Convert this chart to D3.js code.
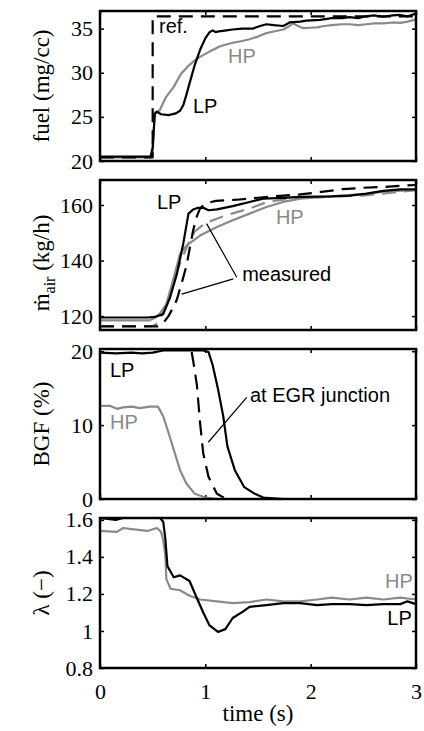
<!DOCTYPE html>
<html>
<head>
<meta charset="utf-8">
<script src="https://cdn.jsdelivr.net/npm/d3@7"></script>
<style>
  body { margin: 0; background: #fff; }
  .serif { font-family: "Liberation Serif", "DejaVu Serif", serif; }
  .sans { font-family: "Liberation Sans", Arial, sans-serif; }
</style>
</head>
<body>
<div class="chart"></div>
<script>
// Data: [time (s), value]
var timeTicks = [0, 1, 2, 3];

var fuelTicks = [20, 25, 30, 35];
var fuelRef = [[0, 20.4], [0.5, 20.4], [0.5, 36.4], [3, 36.4]];
var fuelLP = [[0, 20.5], [0.3, 20.5], [0.48, 20.5], [0.5, 21.5], [0.52, 25.3], [0.54, 25.6], [0.58, 25.3], [0.65, 25.2],
  [0.72, 25.4], [0.76, 25.7], [0.79, 26.3], [0.82, 27.5], [0.85, 28.8], [0.9, 30.9], [0.95, 32.6], [1.0, 33.9],
  [1.04, 34.6], [1.07, 34.8], [1.1, 34.6], [1.13, 34.7], [1.2, 34.8], [1.26, 34.9], [1.35, 35.0], [1.45, 35.0],
  [1.52, 35.3], [1.58, 35.5], [1.65, 35.4], [1.74, 35.3], [1.8, 35.7], [1.9, 35.8], [1.96, 35.9], [2.09, 36.0],
  [2.2, 36.2], [2.3, 36.2], [2.37, 36.3], [2.45, 36.2], [2.53, 36.4], [2.6, 36.5], [2.69, 36.35], [2.78, 36.5],
  [2.85, 36.55], [2.92, 36.4], [3.0, 36.7]];
var fuelHP = [[0, 20.4], [0.48, 20.4], [0.5, 21.0], [0.52, 25.5], [0.55, 25.6], [0.57, 25.8], [0.6, 26.6], [0.63, 27.3],
  [0.7, 28.4], [0.77, 29.9], [0.85, 30.9], [0.9, 31.4], [0.95, 31.8], [1.04, 32.4], [1.14, 33.0], [1.26, 33.4],
  [1.35, 33.6], [1.42, 33.8], [1.5, 34.1], [1.58, 34.5], [1.66, 34.7], [1.74, 34.9], [1.8, 35.3], [1.83, 35.6],
  [1.88, 35.3], [1.93, 35.05], [2.0, 35.1], [2.06, 35.15], [2.13, 35.3], [2.2, 35.4], [2.3, 35.5], [2.37, 35.5],
  [2.45, 35.4], [2.53, 35.5], [2.6, 35.6], [2.69, 35.6], [2.78, 35.7], [2.85, 35.65], [2.92, 35.8], [3.0, 36.05]];

var airTicks = [120, 140, 160];
var airLP = [[0, 119.5], [0.45, 119.5], [0.52, 119.7], [0.6, 120.7], [0.665, 126.7], [0.73, 135.2], [0.79, 146],
  [0.84, 156.9], [0.886, 158.4], [0.93, 159], [0.98, 159], [1.03, 158.1], [1.11, 158.4], [1.26, 159.6], [1.42, 161.1],
  [1.55, 162.3], [1.74, 162.6], [1.9, 162.9], [2.2, 163.1], [2.37, 163.4], [2.53, 164.1], [2.69, 165.1], [2.85, 165.6],
  [3.0, 165.6]];
var airLPmeas = [[0, 116.3], [0.55, 116.3], [0.6, 117.5], [0.65, 120], [0.7, 123.5], [0.73, 126], [0.78, 132.5],
  [0.82, 138], [0.86, 146], [0.885, 151], [0.92, 156], [0.95, 158.8], [1.0, 160.5], [1.1, 161.5], [1.3, 161.9],
  [1.5, 162.6], [1.74, 163.4], [1.9, 163.8], [2.1, 164.7], [2.3, 165.7], [2.5, 166.2], [2.7, 166.5], [2.9, 167.0],
  [3.0, 167.2]];
var airHP = [[0, 118.5], [0.47, 118.5], [0.52, 119.3], [0.57, 121], [0.63, 124.3], [0.7, 133.9], [0.76, 142.4],
  [0.82, 145.4], [0.95, 149], [1.11, 152.1], [1.26, 154.5], [1.42, 156.9], [1.58, 159.3], [1.74, 161.1], [1.9, 162.3],
  [2.2, 163.1], [2.53, 164], [2.69, 164.8], [3.0, 165.4]];
var airHPmeas = [[0, 116.4], [0.5, 116.4], [0.55, 117.5], [0.6, 121.5], [0.66, 127], [0.72, 135], [0.78, 141],
  [0.85, 147], [0.9, 150.5], [1.0, 153.5], [1.14, 155.5], [1.26, 157], [1.42, 158.7], [1.58, 161], [1.8, 162.3],
  [2.2, 163], [2.53, 163.5], [2.85, 164.8], [3.0, 165.3]];

var bgfTicks = [0, 10, 20];
var bgfLP = [[0, 19.8], [0.15, 19.7], [0.3, 19.8], [0.4, 19.7], [0.5, 19.8], [0.6, 20.1], [0.8, 20.1], [0.98, 20.1],
  [1.03, 19.9], [1.07, 18.1], [1.12, 14.9], [1.17, 11.2], [1.21, 7.1], [1.28, 3.9], [1.37, 1.6], [1.47, 0.7],
  [1.55, 0.2], [1.74, 0], [3, 0]];
var bgfLPjunc = [[0.87, 19.9], [0.886, 18.6], [0.92, 15.4], [0.95, 10.3], [0.98, 6.2], [1.03, 3.0], [1.11, 0.7],
  [1.2, 0], [3, 0]];
var bgfHP = [[0, 12.6], [0.1, 12.6], [0.16, 12.2], [0.22, 12.4], [0.3, 12.5], [0.38, 12.3], [0.47, 12.5], [0.55, 12.5],
  [0.6, 11.2], [0.65, 9.0], [0.71, 6.2], [0.76, 3.9], [0.82, 2.1], [0.9, 0.7], [1.0, 0.2], [1.1, 0], [3, 0]];

var lamTicks = [0.8, 1, 1.2, 1.4, 1.6];
var lamLP = [[0, 1.61], [0.15, 1.6], [0.22, 1.61], [0.57, 1.61], [0.6, 1.59], [0.62, 1.5], [0.64, 1.35], [0.7, 1.29],
  [0.76, 1.30], [0.85, 1.27], [0.91, 1.19], [0.98, 1.10], [1.04, 1.03], [1.12, 0.995], [1.19, 1.01], [1.26, 1.07],
  [1.36, 1.106], [1.42, 1.13], [1.58, 1.14], [1.74, 1.15], [1.9, 1.15], [2.06, 1.14], [2.2, 1.145], [2.37, 1.145],
  [2.53, 1.14], [2.69, 1.145], [2.85, 1.145], [2.92, 1.16], [3.0, 1.145]];
var lamHP = [[0, 1.54], [0.16, 1.535], [0.22, 1.556], [0.3, 1.55], [0.45, 1.54], [0.54, 1.556], [0.58, 1.535],
  [0.6, 1.49], [0.62, 1.41], [0.63, 1.28], [0.67, 1.228], [0.76, 1.22], [0.85, 1.19], [0.95, 1.17], [1.11, 1.16],
  [1.26, 1.15], [1.42, 1.156], [1.58, 1.17], [1.74, 1.16], [1.9, 1.16], [2.06, 1.17], [2.2, 1.18], [2.37, 1.17],
  [2.53, 1.18], [2.69, 1.17], [2.85, 1.18], [3.0, 1.17]];

var black = "#000", gray = "#8a8a8a";

// layout
var svgWidth = 424, svgHeight = 731;
var left = 100, width = 316, panelH = 150;
var panelTops = [11, 180, 349, 518];

var svg = d3.select(".chart").append("svg")
  .attr("width", svgWidth)
  .attr("height", svgHeight);

var x = d3.scaleLinear().domain([0, 3]).range([0, width]);

var panels = [
  { domain: [20, 37], ticks: fuelTicks,
    series: [
      { data: fuelHP, color: gray },
      { data: fuelLP, color: black },
      { data: fuelRef, color: black, dash: "14,8" }
    ],
    labels: [
      { t: 0.56, v: 34.5, text: "ref.", color: black },
      { t: 1.215, v: 31.1, text: "HP", color: gray },
      { t: 0.883, v: 25.44, text: "LP", color: black }
    ],
    leaders: [] },
  { domain: [115, 169], ticks: airTicks,
    series: [
      { data: airHPmeas, color: gray, dash: "14,8" },
      { data: airHP, color: gray },
      { data: airLPmeas, color: black, dash: "14,8" },
      { data: airLP, color: black }
    ],
    labels: [
      { t: 0.54, v: 158.7, text: "LP", color: black },
      { t: 1.67, v: 153.3, text: "HP", color: gray },
      { t: 1.35, v: 132.8, text: "measured", color: black }
    ],
    leaders: [[[1.298, 134.0], [1.012, 153.3]], [[1.266, 133.4], [0.775, 127.9]]] },
  { domain: [0, 20.3], ticks: bgfTicks,
    series: [
      { data: bgfHP, color: gray },
      { data: bgfLP, color: black },
      { data: bgfLPjunc, color: black, dash: "15,8" }
    ],
    labels: [
      { t: 0.095, v: 16.5, text: "LP", color: black },
      { t: 0.095, v: 9.42, text: "HP", color: gray },
      { t: 1.424, v: 13.07, text: "at EGR junction", color: black }
    ],
    leaders: [[[1.393, 13.76], [1.028, 7.68]]] },
  { domain: [0.8, 1.61], ticks: lamTicks,
    series: [
      { data: lamHP, color: gray },
      { data: lamLP, color: black }
    ],
    labels: [
      { t: 2.97, v: 1.234, text: "HP", color: gray, anchor: "end" },
      { t: 2.96, v: 1.034, text: "LP", color: black, anchor: "end" }
    ],
    leaders: [] }
];

function styleAxis(g) {
  g.attr("font-family", null).attr("font-size", null);
  g.select(".domain").remove();
  g.selectAll(".tick line").attr("stroke", "#000").attr("stroke-width", 1.5);
  g.selectAll("text").attr("class", "serif").style("font-size", "22px").attr("fill", "#000");
}

panels.forEach(function(p, i) {
  var y = d3.scaleLinear().domain(p.domain).range([panelH, 0]);
  var g = svg.append("g").attr("transform", `translate(${left},${panelTops[i]})`);
  var last = i === panels.length - 1;

  // axes with inward ticks on all four sides
  g.append("g").call(d3.axisLeft(y).tickValues(p.ticks).tickSizeInner(-4).tickSizeOuter(0).tickPadding(7)
    .tickFormat(d3.format("~g"))).call(styleAxis);
  g.append("g").attr("transform", `translate(${width},0)`)
    .call(d3.axisRight(y).tickValues(p.ticks).tickSizeInner(-4).tickSizeOuter(0).tickFormat("")).call(styleAxis);
  g.append("g").call(d3.axisTop(x).tickValues(timeTicks).tickSizeInner(-4).tickSizeOuter(0).tickFormat(""))
    .call(styleAxis);
  g.append("g").attr("transform", `translate(0,${panelH})`)
    .call(d3.axisBottom(x).tickValues(timeTicks).tickSizeInner(-4).tickSizeOuter(0).tickPadding(15)
      .tickFormat(last ? d3.format("d") : "")).call(styleAxis);

  var line = d3.line().x(d => x(d[0])).y(d => y(d[1]));

  p.series.forEach(function(s) {
    g.append("path")
      .datum(s.data)
      .attr("d", line)
      .attr("fill", "none")
      .attr("stroke", s.color)
      .attr("stroke-width", 2.2)
      .attr("stroke-linejoin", "round")
      .attr("stroke-dasharray", s.dash || null);
  });

  p.leaders.forEach(function(l) {
    g.append("path")
      .datum(l)
      .attr("d", line)
      .attr("fill", "none")
      .attr("stroke", "#000")
      .attr("stroke-width", 1.2);
  });

  p.labels.forEach(function(l) {
    g.append("text")
      .attr("class", "sans")
      .attr("x", x(l.t))
      .attr("y", y(l.v))
      .attr("text-anchor", l.anchor || "start")
      .style("font-size", "20px")
      .attr("fill", l.color)
      .text(l.text);
  });

  // plot box
  g.append("rect")
    .attr("width", width)
    .attr("height", panelH)
    .attr("fill", "none")
    .attr("stroke", "#000")
    .attr("stroke-width", 2.5);
});

// y axis labels
var yLabels = ["fuel (mg/cc)", null, "BGF (%)", "\u03bb (\u2212)"];
yLabels.forEach(function(lbl, i) {
  var t = svg.append("text")
    .attr("class", "serif")
    .attr("transform", `translate(49,${panelTops[i] + panelH / 2}) rotate(-90)`)
    .attr("text-anchor", "middle")
    .style("font-size", "23px")
    .attr("fill", "#000");
  if (lbl) {
    t.text(lbl);
  } else {
    t.attr("transform", `translate(49,${panelTops[i] + panelH / 2 + 8}) rotate(-90)`);
    t.append("tspan").text("\u1e41");
    t.append("tspan").attr("dy", 6).style("font-size", "16px").text("air");
    t.append("tspan").attr("dy", -6).text(" (kg/h)");
  }
});

svg.append("text")
  .attr("class", "serif")
  .attr("x", left + width / 2)
  .attr("y", 721)
  .attr("text-anchor", "middle")
  .style("font-size", "23px")
  .attr("fill", "#000")
  .text("time (s)");
</script>
</body>
</html>
